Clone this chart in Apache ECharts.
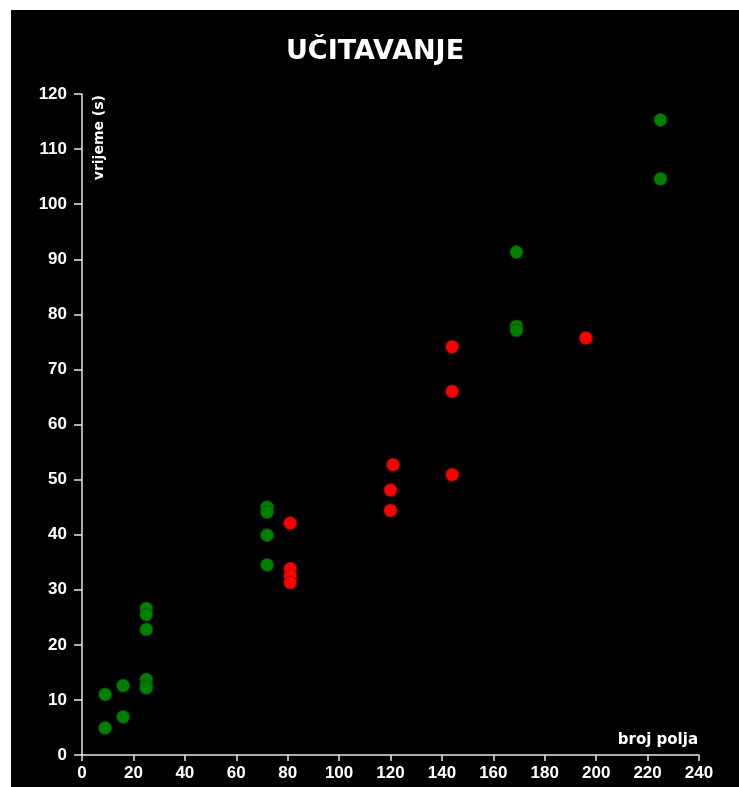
<!DOCTYPE html>
<html>
<head>
<meta charset="utf-8">
<script src="https://cdn.jsdelivr.net/npm/echarts@6/dist/echarts.min.js"></script>
<style>
html,body{margin:0;padding:0;background:#fff;width:739px;height:787px;overflow:hidden;}
#chart{position:absolute;left:11px;top:10px;width:728px;height:777px;background:#000;}
</style>
</head>
<body>
<div id="chart"></div>
<script>
// Data
var titleText = 'UČITAVANJE';
var xName = 'broj polja';
var yName = 'vrijeme (s)';

var greenX = [9, 9, 16, 16, 25, 25, 25, 25, 25, 25, 72, 72, 72, 72, 169, 169, 169, 225, 225];
var greenY = [11.0, 4.9, 12.6, 6.9, 26.6, 25.5, 22.8, 13.7, 12.7, 12.2, 45.0, 44.1, 39.9, 34.5, 91.3, 77.8, 77.1, 115.3, 104.6];

var redX = [81, 81, 81, 81, 120, 120, 121, 144, 144, 144, 196];
var redY = [42.1, 33.8, 32.5, 31.3, 48.1, 44.4, 52.7, 74.1, 66.0, 50.9, 75.7];

var xMin = 0, xMax = 240, xStep = 20;
var yMin = 0, yMax = 120, yStep = 10;

function pairs(xs, ys) {
  return xs.map(function (x, i) { return [x, ys[i]]; });
}

var chart = echarts.init(document.getElementById('chart'));
var axisColor = '#e6e6e6';
var labelFont = { color: '#fff', fontFamily: 'Liberation Sans', fontWeight: 'bold', fontSize: 17 };

chart.setOption({
  backgroundColor: '#000',
  animation: false,
  title: {
    text: titleText,
    left: 'center',
    top: 23,
    textStyle: { color: '#fff', fontFamily: 'DejaVu Sans', fontWeight: 'bold', fontSize: 27 }
  },
  grid: { left: 71, right: 40, top: 84, bottom: 32, containLabel: false },
  xAxis: {
    type: 'value', min: xMin, max: xMax, interval: xStep,
    axisLine: { show: true, lineStyle: { color: axisColor, width: 1.5 } },
    axisTick: { show: true, length: 6, lineStyle: { color: axisColor, width: 1.5 } },
    axisLabel: Object.assign({ margin: 10 }, labelFont),
    splitLine: { show: false }
  },
  yAxis: {
    type: 'value', min: yMin, max: yMax, interval: yStep,
    axisLine: { show: true, lineStyle: { color: axisColor, width: 1.5 } },
    axisTick: { show: true, length: 8, lineStyle: { color: axisColor, width: 1.5 } },
    axisLabel: Object.assign({ margin: 15 }, labelFont),
    splitLine: { show: false }
  },
  graphic: [
    {
      type: 'text', x: 88, y: 85, rotation: Math.PI / 2,
      style: { text: yName, fill: '#fff', font: 'bold 14px "DejaVu Sans"', align: 'right', verticalAlign: 'middle' }
    },
    {
      type: 'text', x: 687, y: 730,
      style: { text: xName, fill: '#fff', font: 'bold 15px "DejaVu Sans"', align: 'right', verticalAlign: 'middle' }
    }
  ],
  series: [
    {
      type: 'scatter', symbolSize: 13,
      itemStyle: { color: '#008000', opacity: 1, borderColor: '#004d00', borderWidth: 0.8 },
      data: pairs(greenX, greenY)
    },
    {
      type: 'scatter', symbolSize: 13,
      itemStyle: { color: '#ff0000', opacity: 1, borderColor: '#990000', borderWidth: 0.8 },
      data: pairs(redX, redY)
    }
  ]
});
</script>
</body>
</html>
